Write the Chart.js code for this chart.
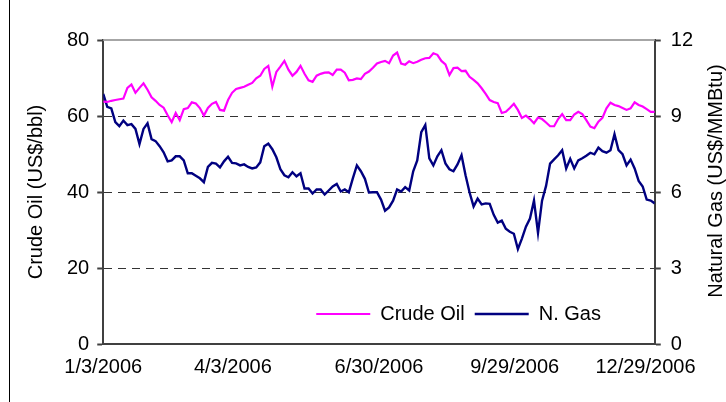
<!DOCTYPE html>
<html>
<head>
<meta charset="utf-8">
<script src="https://cdn.jsdelivr.net/npm/chart.js@4/dist/chart.umd.min.js"></script>
<style>
html,body{margin:0;padding:0;background:#fff;}
#wrap{width:726px;height:402px;position:relative;}
</style>
</head>
<body>
<div id="wrap"><canvas id="c" width="726" height="402"></canvas></div>
<script>
// Series names
const seriesNames = ['Crude Oil', 'N. Gas'];
// Crude oil, US$/bbl (sampled through 2006)
const crudeOil = [
  63.8, 63.7, 64.0, 64.2, 64.4, 64.6, 67.4, 68.3, 66.1, 67.4,
  68.6, 66.9, 64.9, 64.0, 62.9, 62.2, 60.2, 58.4, 60.8, 58.9,
  61.8, 62.1, 63.6, 63.3, 62.1, 60.1, 62.1, 63.2, 63.7, 61.6,
  61.4, 64.2, 66.1, 67.1, 67.4, 67.7, 68.2, 68.7, 69.9, 70.6,
  72.4, 73.2, 67.7, 71.6, 73.0, 74.5, 72.2, 70.6, 71.6, 73.2,
  71.1, 69.4, 69.0, 70.6, 71.1, 71.4, 71.5, 70.8, 72.2, 72.2,
  71.4, 69.4, 69.5, 69.9, 69.7, 71.1, 71.7, 72.7, 73.8, 74.2,
  74.5, 73.9, 75.9, 76.7, 73.8, 73.5, 74.4, 73.9, 74.3, 74.8,
  75.2, 75.3, 76.5, 76.1, 74.5, 73.6, 70.8, 72.6, 72.7, 71.8,
  71.9, 70.3, 69.5, 68.6, 67.3, 65.8, 64.2, 63.7, 63.4, 60.8,
  61.1, 62.1, 63.2, 61.6, 59.5, 60.1, 59.2, 58.1, 59.6, 59.2,
  58.3, 57.3, 57.3, 59.2, 60.5, 58.9, 58.9, 60.4, 61.1, 60.5,
  58.9, 57.2, 56.8, 58.5, 59.5, 62.0, 63.5, 62.9, 62.6, 62.1,
  61.6, 62.0, 63.6, 62.9, 62.5, 61.8, 61.1, 61.1
];
// Natural gas, US$/MMBtu (same sampling)
const natGas = [
  9.87, 9.36, 9.30, 8.76, 8.60, 8.82, 8.64, 8.68, 8.49, 7.89,
  8.49, 8.71, 8.09, 8.01, 7.81, 7.57, 7.21, 7.25, 7.41, 7.41,
  7.25, 6.74, 6.74, 6.64, 6.54, 6.39, 6.99, 7.15, 7.12, 6.97,
  7.21, 7.39, 7.15, 7.13, 7.05, 7.09, 6.99, 6.93, 6.97, 7.17,
  7.81, 7.91, 7.69, 7.37, 6.90, 6.66, 6.58, 6.78, 6.62, 6.74,
  6.14, 6.14, 5.94, 6.10, 6.10, 5.90, 6.06, 6.22, 6.32, 6.02,
  6.10, 5.99, 6.54, 7.05, 6.82, 6.52, 5.98, 5.99, 5.99, 5.70,
  5.26, 5.39, 5.66, 6.10, 6.02, 6.19, 6.06, 6.82, 7.25, 8.36,
  8.64, 7.33, 7.05, 7.41, 7.65, 7.13, 6.90, 6.82, 7.09, 7.45,
  6.66, 5.98, 5.43, 5.74, 5.51, 5.55, 5.53, 5.10, 4.79, 4.87,
  4.55, 4.43, 4.35, 3.75, 4.16, 4.63, 4.95, 5.66, 4.39, 5.66,
  6.24, 7.12, 7.29, 7.45, 7.65, 6.93, 7.31, 6.93, 7.25, 7.33,
  7.43, 7.55, 7.49, 7.75, 7.61, 7.55, 7.65, 8.28, 7.65, 7.49,
  7.05, 7.28, 6.93, 6.44, 6.22, 5.70, 5.66, 5.55
];
// Date tick labels and the sample index where each falls
const tickLabels = ['1/3/2006', '4/3/2006', '6/30/2006', '9/29/2006', '12/29/2006'];
const tickIndex = [0, 32.2, 68.5, 102.2, 134.7];
const oilTicks = [0, 20, 40, 60, 80];
const gasTicks = [0, 3, 6, 9, 12];
const leftTitle = 'Crude Oil (US$/bbl)';
const rightTitle = 'Natural Gas (US$/MMBtu)';

const FONT = {family: "'Liberation Sans', Arial, sans-serif", size: 20};

const legendMover = {
  id: 'legendMover',
  afterLayout(chart) {
    const lg = chart.legend;
    if (!lg) return;
    const ca = chart.chartArea;
    const w = lg.right - lg.left, h = lg.bottom - lg.top;
    lg.left = ca.left + 203; lg.right = lg.left + w;
    lg.top = ca.bottom - 50; lg.bottom = lg.top + h;
  }
};

const decor = {
  id: 'decor',
  beforeDatasetsDraw(chart) {
    const {ctx, chartArea: ca} = chart;
    ctx.save();
    ctx.strokeStyle = '#a6a6a6';
    ctx.lineWidth = 2;
    ctx.beginPath();
    ctx.moveTo(ca.left, ca.top);
    ctx.lineTo(ca.right, ca.top);
    ctx.stroke();
    ctx.restore();
  },
  afterDraw(chart) {
    const {ctx, chartArea: ca} = chart;
    ctx.save();
    ctx.strokeStyle = '#000';
    ctx.lineWidth = 1;
    ctx.beginPath();
    ctx.moveTo(9.5, 0);
    ctx.lineTo(9.5, chart.height);
    ctx.stroke();
    ctx.fillStyle = '#000';
    ctx.font = "20px 'Liberation Sans', Arial, sans-serif";
    ctx.textAlign = 'center';
    ctx.textBaseline = 'middle';
    ctx.translate(ca.right + 62, (ca.top + ca.bottom) / 2 - 11);
    ctx.rotate(-Math.PI / 2);
    ctx.fillText(rightTitle, 0, 0);
    ctx.restore();
  }
};

new Chart(document.getElementById('c'), {
  type: 'line',
  data: {
    datasets: [
      {
        label: seriesNames[0],
        data: crudeOil.map((v, i) => ({x: i, y: v})),
        yAxisID: 'y',
        borderColor: '#ff00ff',
        backgroundColor: '#ff00ff',
        borderWidth: 2.2,
        pointRadius: 0,
        pointStyle: 'line',
        tension: 0,
        fill: false
      },
      {
        label: seriesNames[1],
        data: natGas.map((v, i) => ({x: i, y: v})),
        yAxisID: 'y1',
        borderColor: '#000080',
        backgroundColor: '#000080',
        borderWidth: 2.4,
        pointRadius: 0,
        pointStyle: 'line',
        tension: 0,
        fill: false
      }
    ]
  },
  options: {
    responsive: false,
    animation: false,
    devicePixelRatio: 1,
    layout: {padding: {left: 10, right: 23, top: 0, bottom: 20}},
    plugins: {
      legend: {
        position: 'top',
        align: 'start',
        labels: {
          font: FONT,
          color: '#000',
          usePointStyle: true,
          pointStyle: 'line',
          pointStyleWidth: 54,
          padding: 10
        }
      },
      tooltip: {enabled: false}
    },
    scales: {
      x: {
        type: 'linear',
        min: 0,
        max: crudeOil.length - 1,
        grid: {display: false},
        border: {display: true, color: '#404040', width: 2},
        afterBuildTicks: s => { s.ticks = tickIndex.map(v => ({value: v})); },
        ticks: {
          autoSkip: false,
          maxRotation: 0,
          minRotation: 0,
          font: FONT,
          color: '#000',
          padding: 3,
          callback: (v, i) => tickLabels[i]
        }
      },
      y: {
        position: 'left',
        min: 0,
        max: 80,
        afterBuildTicks: s => { s.ticks = oilTicks.map(v => ({value: v})); },
        ticks: {font: FONT, color: '#000', padding: 8},
        grid: {
          color: c => (c.tick && (c.tick.value === 0 || c.tick.value === 80)) ? 'rgba(0,0,0,0)' : '#333',
          lineWidth: 1,
          tickLength: 6,
          tickColor: '#404040',
          tickWidth: 2
        },
        border: {display: true, color: '#404040', width: 2, dash: [8, 6]},
        title: {display: true, text: leftTitle, font: FONT, color: '#000', padding: {top: 14, bottom: 11}}
      },
      y1: {
        position: 'right',
        min: 0,
        max: 12,
        afterBuildTicks: s => { s.ticks = gasTicks.map(v => ({value: v})); },
        ticks: {font: FONT, color: '#000', padding: 10},
        grid: {drawOnChartArea: false, tickLength: 6, tickColor: '#404040', tickWidth: 2},
        border: {display: true, color: '#404040', width: 2}
      }
    }
  },
  plugins: [legendMover, decor]
});
</script>
</body>
</html>
